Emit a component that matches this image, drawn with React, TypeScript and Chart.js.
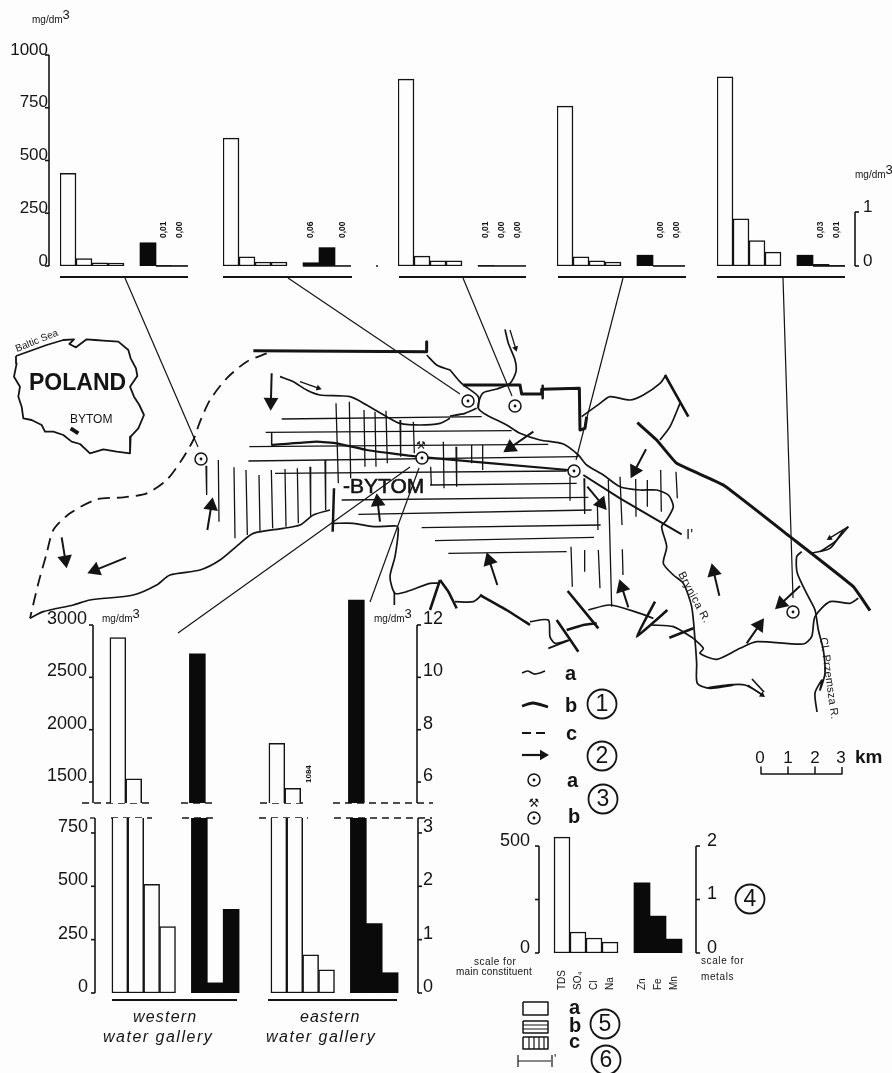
import React, { useEffect, useRef } from "react";
import { Chart, registerables } from "chart.js";

Chart.register(...registerables);

const FONT = '"Liberation Sans", Arial, sans-serif';
const INK = "#141414";
const PAPER = "#fdfdfd";

// ---------- bar data ----------
const categories = ["TDS", "SO₄", "Cl", "Na", "", "Zn", "Fe", "Mn"];

const site1Main = [439, 35, 15, 14];
const site1Metals = [0.43, 0.01, 0];
const site1Notes = ["", "0,01", "0,00"];
const site2Main = [606, 43, 19, 19];
const site2Metals = [0.06, 0.34, 0];
const site2Notes = ["0,06", "", "0,00"];
const site3Main = [886, 47, 24, 24];
const site3Metals = [0.01, 0, 0];
const site3Notes = ["0,01", "0,00", "0,00"];
const site4Main = [758, 43, 24, 19];
const site4Metals = [0.2, 0, 0];
const site4Notes = ["", "0,00", "0,00"];
const site5Main = [896, 223, 120, 66];
const site5Metals = [0.2, 0.03, 0.01];
const site5Notes = ["", "0,03", "0,01"];

const westernMain = [2881, 1530, 509, 311];
const westernMetals = [10.9, 0.19, 1.57];
const easternMain = [1871, 1440, 179, 108];
const easternMetals = [12.95, 1.3, 0.38];
const easternNotes = ["", "1084"];

const keyMain = [542, 98, 70, 51];
const keyMetals = [1.31, 0.69, 0.26];

const mainTicksTop = [0, 250, 500, 750, 1000];
const metalTicksTop = [0, 1];
const mainTicksUpper = [1500, 2000, 2500, 3000];
const metalTicksUpper = [6, 8, 10, 12];
const mainTicksLower = [0, 250, 500, 750];
const metalTicksLower = [0, 1, 2, 3];
const mainTicksKey = [0, 250, 500];
const metalTicksKey = [0, 1, 2];

// ---------- map traces ----------
type P = [number, number];
const w3 = (a: P[]): P[] => a.map(([x, y]) => [x / 3, 290 + y / 3] as P);
const e3 = (a: P[]): P[] => a.map(([x, y]) => [440 + x / 3, 290 + y / 3] as P);

const polandOutline = w3([[48,198],[90,183],[140,165],[190,150],[222,148],[208,162],[228,172],[260,148],[285,150],[310,152],[355,155],[385,180],[392,205],[408,235],[412,258],[390,290],[402,320],[418,345],[432,375],[415,415],[392,440],[390,490],[350,485],[310,478],[270,490],[240,462],[215,455],[190,435],[160,425],[135,425],[125,405],[95,390],[70,385],[65,350],[55,320],[60,290],[42,260],[50,220],[48,198]]);
const polandMark = w3([[212,415],[235,430]]);
const dashedBoundary = w3([[800,190],[740,215],[680,265],[630,330],[600,395],[580,450],[545,510],[500,570],[440,610],[370,622],[290,628],[210,670],[160,720],[140,790],[115,880],[90,985]]);
const northBoundary = [...w3([[760,182],[1280,185],[1280,155],[1280,185]])];
const northBoundaryEast = e3([[70,285],[240,285],[245,312],[305,312],[305,298],[418,295],[420,420],[435,415],[440,380]]);
const boundaryTick = e3([[308,287],[308,325]]);
const riverNorthWest = w3([[840,260],[880,275],[920,300],[960,315],[1050,320],[1100,345],[1160,380],[1200,400],[1260,405],[1320,400],[1350,385]]);
const riverNorthWestEnd = e3([[30,378],[75,370],[110,355]]);
const riverUpper = [...w3([[1280,195],[1310,225],[1350,240]]), ...e3([[30,240],[55,270],[70,285]])];
const riverCircleArm = e3([[70,285],[115,320],[115,355]]);
const riverBrynica = [...e3([[195,118],[205,160],[225,210],[228,245],[210,280],[170,297],[130,308],[118,330],[115,355],[140,375],[200,405],[240,430],[300,450],[370,462],[415,495],[440,525],[490,555],[540,590],[600,600],[650,600],[685,615],[700,650],[680,690],[665,710],[680,770],[670,820],[700,855],[730,880],[755,950],[765,1050],[770,1120],[772,1180],[810,1195],[880,1185]]), [707,688],[727,685],[745,685],[763,695]] as P[];
const riverSouthWest = w3([[90,985],[130,965],[220,945],[270,930],[400,915],[470,885],[510,855],[600,840],[660,810],[720,760],[760,730],[850,715],[900,705],[940,675],[990,660]]);
const riverSouthMid = w3([[1000,700],[1060,700],[1120,710],[1190,708],[1195,720],[1185,800],[1170,860],[1185,910],[1220,905],[1290,880],[1320,880]]);
const riverDrop = w3([[1183,905],[1183,945]]);
const southThick1 = e3([[0,870],[25,905],[50,955]]);
const southThick1b = w3([[1320,870],[1290,960]]);
const riverS2 = e3([[45,935],[100,935],[125,915]]);
const southThick2 = e3([[120,915],[200,960],[270,1005]]);
const riverS3 = e3([[270,995],[325,990],[330,1040],[345,1060],[385,1050]]);
const southThick3 = e3([[350,990],[415,1085]]);
const riverS4 = e3([[325,1075],[390,1050]]);
const southThick4 = e3([[380,1020],[430,1005],[470,1000]]);
const southThick5 = e3([[383,903],[475,1015]]);
const riverS5 = e3([[445,960],[510,945],[600,970],[640,985]]);
const southThick6 = e3([[645,935],[590,1040],[682,960]]);
const riverS6 = e3([[635,1005],[700,1010],[760,1045]]);
const southThick7 = e3([[688,1043],[760,1015]]);
const riverS7 = e3([[760,1045],[790,1075],[780,1090],[830,1108],[900,1075],[950,1055],[1090,1062],[1115,1040],[1125,980],[1170,935],[1230,940],[1255,925]]);
const northEastThick = e3([[592,398],[650,450],[710,520],[850,585],[1050,740],[1240,890],[1290,962]]);
const riverEastFork = e3([[1110,790],[1170,775],[1210,720]]);
const riverPrzemsza = [...e3([[1085,785],[1070,800],[1072,850],[1105,920],[1125,960],[1135,1020],[1150,1080],[1155,1150],[1140,1200]]), [822,680],[815,693],[817,712]] as P[];
const riverNorthEast = e3([[425,380],[480,340],[510,320],[570,330],[610,315],[660,280],[678,255]]);
const thickNorthEast = e3([[675,255],[745,380]]);
const riverNE2 = e3([[720,340],[690,410],[660,450]]);
const sectionLine = [...w3([[815,465],[950,455],[1010,460],[1100,480],[1250,500]]), ...e3([[385,540]])];
const sectionLineEast = e3([[430,555],[540,625],[725,733]]);
const sectionStub = w3([[815,430],[815,465]]);
const gateMark = w3([[1002,595],[998,725]]);

const leaders: P[][] = [
  [[125,278],[198,447]],
  [[288,278],[460,394]],
  [[463,278],[512,396]],
  [[623,278],[576,460]],
  [[783,278],[793,598]],
  [[410,467],[178,633]],
  [[419,468],[370,602]],
];

type Seg = [number, number, number, number];
const hatchHorizontal: Seg[] = [
  [845,387,1320+125,380],[797,427,1320+215,422],[748,470,1320+325,463],[745,513,1320+415,500],[825,550,1320+380,543],
  [1290,585,1320+410,580],[1025,630,1320+445,622],[1075,673,1320+455,660],[1265,713,1320+482,705],[1305,752,1320+462,742],[1345,790,1320+380,785],
];
const hatchVertical: Seg[] = [
  [618,527,620,615],[655,510,657,695],[702,532,705,745],[738,540,742,735],[777,555,780,725],[814,540,818,715],[855,537,858,710],[892,535,895,700],[930,530,932,680],[975,510,977,660],
  [1008,340,1015,580],[1048,335,1052,565],[1092,360,1095,530],[1125,365,1128,530],[1158,362,1162,520],[1200,390,1202,500],[1240,395,1243,490],[1292,530,1294,585],
  [1330,455,1332,595],[1368,470,1370,590],[1415,465,1415,520],[1448,465,1448,540],[1710,560,1710,632],[1752,565,1754,672],[1792,640,1794,720],[1825,570,1835,950],
  [1860,560,1866,705],[1907,567,1908,680],[1942,570,1942,650],[1982,540,1984,665],[2028,545,2032,625],[1713,770,1717,890],[1754,780,1754,845],[1795,780,1800,895],[1867,778,1869,855],
];

const flowArrows: Seg[] = [
  [815,250,812,362],[622,720,638,622],[185,742,200,835],[378,803,262,850],[1140,695,1130,610],
  [1600,425,1510,487],[1938,478,1892,565],[1762,590,1820,660],[1492,885,1460,787],[1885,952,1858,868],[2158,917,2135,820],[2240,1060,2292,985],[2400,888,2325,958],
];
const currentArrows: Seg[] = [
  [900,275,965,298],[1530,120,1550,185],[2545,710,2480,750],[2244,1185,2295,1221],
];
const currentCompanions: P[][] = [e3([[1225,710],[1185,755],[1140,785]]), [[752,679],[764,692]]];

const stations: P[] = [[201,459],[468,401],[515,406],[422,458],[574,471],[793,612],[534,780],[534,818]];
const specks: P[] = [[377,266]];

const circledNumbers: [string, number, number][] = [["1",602,704],["2",602,756],["3",603,799],["4",750,899],["5",605,1024],["6",606,1060]];

const panelRules: P[][] = [
  [[60,277],[188,277]],[[223,277],[352,277]],[[399,277],[526,277]],[[558,277],[686,277]],[[717,277],[845,277]],
  [[112,1000],[237,1000]],[[268,1000],[397,1000]],
];
const breakDashes: P[][] = [
  [[82,803],[150,803]],[[181,803],[217,803]],[[260,803],[308,803]],[[333,803],[433,803]],
  [[90,818],[95,818]],[[111,818],[152,818]],[[182,818],[217,818]],[[259,818],[308,818]],[[334,818],[432,818]],
];
const legendRiver: P[] = [[522,673],[528,671],[534,674],[540,673],[545,671]];
const legendThick: P[] = [[522,706],[533,703],[548,707]];
const legendDash: P[] = [[522,733],[548,733]];
const legendArrow: Seg[] = [[1566,1395,1647,1395]];
const legendBoxes: P[][] = [
  [[523,1002],[548,1002],[548,1015],[523,1015],[523,1002]],
  [[523,1021],[548,1021],[548,1033],[523,1033],[523,1021]],
  [[523,1037],[548,1037],[548,1049],[523,1049],[523,1037]],
];
const legendHatch: Seg[] = [
  [523,1025,548,1025],[523,1029,548,1029],
  [529,1037,529,1049],[534,1037,534,1049],[539,1037,539,1049],[544,1037,544,1049],
  [518,1055,518,1067],[518,1061,551,1061],[552,1055,552,1067],
];
const scaleBar: P[] = [[761,767],[761,774],[788,774],[788,767],[788,774],[815,774],[815,767],[815,774],[842,774],[842,767]];

type Label = { t: string; x: number; y: number; s: number; w?: string; i?: boolean; r?: number; ls?: number; a?: CanvasTextAlign; sup?: boolean; f?: string; st?: number };
const mapLabels: Label[] = [
  { t: "mg/dm", x: 32, y: 23, s: 10, sup: true },
  { t: "mg/dm", x: 855, y: 178, s: 10, sup: true },
  { t: "mg/dm", x: 102, y: 622, s: 10, sup: true },
  { t: "mg/dm", x: 374, y: 622, s: 10, sup: true },
  { t: "POLAND", x: 29, y: 390, s: 23, w: "bold" },
  { t: "BYTOM", x: 70, y: 423, s: 12 },
  { t: "Baltic Sea", x: 17, y: 352, s: 10, r: -22 },
  { t: "-BYTOM", x: 343, y: 493, s: 21, st: 0.6 },
  { t: "Brynica R.", x: 678, y: 574, s: 11, r: 62, ls: 0.6 },
  { t: "Cl. Przemsza R.", x: 820, y: 638, s: 11, r: 82, ls: 0.2 },
  { t: "I'", x: 686, y: 539, s: 15 },
  { t: "'", x: 554, y: 1063, s: 12 },
  { t: "a", x: 565, y: 680, s: 20, w: "bold" },
  { t: "b", x: 565, y: 712, s: 20, w: "bold" },
  { t: "c", x: 566, y: 740, s: 20, w: "bold" },
  { t: "a", x: 567, y: 787, s: 20, w: "bold" },
  { t: "b", x: 568, y: 823, s: 20, w: "bold" },
  { t: "a", x: 569, y: 1014, s: 20, w: "bold" },
  { t: "b", x: 569, y: 1032, s: 20, w: "bold" },
  { t: "c", x: 569, y: 1048, s: 20, w: "bold" },
  { t: "⚒", x: 421, y: 449, s: 11, a: "center", f: '"DejaVu Sans"' },
  { t: "⚒", x: 534, y: 807, s: 12, a: "center", f: '"DejaVu Sans"' },
  { t: "0", x: 760, y: 763, s: 17, a: "center" },
  { t: "1", x: 788, y: 763, s: 17, a: "center" },
  { t: "2", x: 815, y: 763, s: 17, a: "center" },
  { t: "3", x: 841, y: 763, s: 17, a: "center" },
  { t: "km", x: 855, y: 763, s: 19, w: "bold" },
  { t: "western", x: 133, y: 1022, s: 16, i: true, ls: 1.2 },
  { t: "water gallery", x: 103, y: 1042, s: 16, i: true, ls: 1.5 },
  { t: "eastern", x: 300, y: 1022, s: 16, i: true, ls: 1 },
  { t: "water gallery", x: 266, y: 1042, s: 16, i: true, ls: 1.5 },
  { t: "scale for", x: 474, y: 965, s: 10, ls: 0.5 },
  { t: "main constituent", x: 456, y: 975, s: 10, ls: 0.2 },
  { t: "scale for", x: 701, y: 964, s: 10, ls: 0.6 },
  { t: "metals", x: 701, y: 980, s: 10, ls: 0.6 },
];

// ---------- map layer ----------
const xy = (a: P[]) => a.map(([x, y]) => ({ x, y }));
const line = (a: P[], width: number, dash: number[] = [], tension = 0.25) => ({
  data: xy(a), showLine: true, borderColor: INK, borderWidth: width, borderDash: dash,
  pointRadius: 0, tension, borderCapStyle: "butt", borderJoinStyle: "round", fill: false,
});
const segments = (a: Seg[], width: number) => ({
  data: a.flatMap(([x1, y1, x2, y2]) => [{ x: x1, y: y1 }, { x: x2, y: y2 }, { x: null, y: null }]),
  showLine: true, borderColor: INK, borderWidth: width, pointRadius: 0, tension: 0, spanGaps: false,
});
const hatchPage = (a: Seg[]): Seg[] => a.map(([x1, y1, x2, y2]) => [x1 / 3, 290 + y1 / 3, x2 / 3, 290 + y2 / 3] as Seg);

function arrowSets(a: Seg[], lineWidth: number, size: number) {
  const page = hatchPage(a);
  const heads = page.map(([x1, y1, x2, y2]) => {
    const len = Math.hypot(x2 - x1, y2 - y1) || 1;
    const ux = (x2 - x1) / len, uy = (y2 - y1) / len;
    return { x: x2 - ux * size, y: y2 - uy * size, rot: (Math.atan2(ux, -uy) * 180) / Math.PI };
  });
  return [
    {
      data: heads.map((h) => ({ x: h.x, y: h.y })), showLine: false, pointStyle: "triangle",
      pointRadius: size, pointRotation: heads.map((h) => h.rot), backgroundColor: INK, borderColor: INK, borderWidth: 0,
    },
    segments(page.map(([x1, y1], i) => [x1, y1, heads[i].x, heads[i].y] as Seg), lineWidth),
  ];
}

function MapLayer() {
  const ref = useRef<HTMLCanvasElement>(null);
  useEffect(() => {
    const labelPlugin = {
      id: "mapLabels",
      afterDatasetsDraw(chart: any) {
        const { ctx, scales } = chart;
        ctx.save();
        ctx.fillStyle = INK;
        ctx.strokeStyle = INK;
        ctx.textBaseline = "alphabetic";
        const put = (l: Label) => {
          ctx.save();
          ctx.translate(scales.x.getPixelForValue(l.x), scales.y.getPixelForValue(l.y));
          if (l.r) ctx.rotate((l.r * Math.PI) / 180);
          ctx.font = `${l.i ? "italic " : ""}${l.w || "normal"} ${l.s}px ${l.f || FONT}`;
          ctx.textAlign = l.a || "left";
          (ctx as any).letterSpacing = `${l.ls || 0}px`;
          ctx.fillText(l.t, 0, 0);
          if (l.st) {
            ctx.lineWidth = l.st;
            ctx.strokeText(l.t, 0, 0);
          }
          if (l.sup) {
            const w = ctx.measureText(l.t).width;
            ctx.font = `${l.s + 3}px ${FONT}`;
            ctx.fillText("3", w, -4);
          }
          ctx.restore();
        };
        mapLabels.forEach(put);
        circledNumbers.forEach(([t, x, y]) => {
          ctx.font = `23px ${FONT}`;
          ctx.textAlign = "center";
          ctx.textBaseline = "middle";
          ctx.fillText(t, scales.x.getPixelForValue(x), scales.y.getPixelForValue(y) + 1);
        });
        ctx.restore();
      },
    };
    const chart = new Chart(ref.current!, {
      type: "scatter",
      data: {
        datasets: [
          { data: xy(stations), showLine: false, pointStyle: "circle", pointRadius: 1.4, backgroundColor: INK, borderWidth: 0 },
          { data: xy(stations), showLine: false, pointStyle: "circle", pointRadius: 6, backgroundColor: PAPER, borderColor: INK, borderWidth: 1.5 },
          { data: xy(circledNumbers.map(([, x, y]) => [x, y] as P)), showLine: false, pointStyle: "circle", pointRadius: 14.5, backgroundColor: "rgba(0,0,0,0)", borderColor: INK, borderWidth: 1.8 },
          { data: xy(specks), showLine: false, pointRadius: 1, backgroundColor: INK, borderWidth: 0 },
          ...arrowSets(flowArrows, 2, 8.5),
          ...arrowSets(currentArrows, 1.3, 3.5),
          ...arrowSets(legendArrow, 2.2, 6),
          line(polandOutline, 1.8, [], 0),
          line(polandMark, 4, [], 0),
          line(dashedBoundary, 1.8, [12, 7]),
          line(northBoundary, 3, [], 0),
          line(northBoundaryEast, 3, [], 0),
          line(boundaryTick, 2.5, [], 0),
          ...[riverNorthWest, riverNorthWestEnd, riverUpper, riverCircleArm, riverBrynica, riverSouthWest, riverSouthMid, riverDrop, riverS2, riverS3, riverS4, riverS5, riverS6, riverS7, riverEastFork, riverPrzemsza, riverNorthEast, riverNE2, ...currentCompanions].map((r) => line(r, 1.7)),
          ...[southThick1, southThick1b, southThick2, southThick3, southThick4, southThick5, southThick6, southThick7, thickNorthEast].map((r) => line(r, 2.6, [], 0.1)),
          line(northEastThick, 3, [], 0.1),
          line(sectionLine, 2.2, [], 0.1),
          line(sectionLineEast, 2, [], 0),
          line(sectionStub, 1.5, [], 0),
          line(gateMark, 2.5, [], 0),
          ...leaders.map((l) => line(l, 1.2, [], 0)),
          segments(hatchPage(hatchHorizontal), 1.3),
          segments(hatchPage(hatchVertical), 1.3),
          ...panelRules.map((l) => line(l, 2, [], 0)),
          ...breakDashes.map((l) => line(l, 1.3, [7, 5], 0)),
          line(legendRiver, 1.7),
          line(legendThick, 2.8),
          line(legendDash, 1.8, [9, 5], 0),
          ...legendBoxes.map((l) => line(l, 1.5, [], 0)),
          segments(legendHatch, 1.2),
          line(scaleBar, 1.5, [], 0),
        ] as any,
      },
      options: {
        responsive: false, animation: false, layout: { padding: 0, autoPadding: false },
        plugins: { legend: { display: false }, tooltip: { enabled: false } },
        events: [],
        scales: {
          x: { type: "linear", min: 0, max: 892, display: false },
          y: { type: "linear", min: 0, max: 1073, reverse: true, display: false },
        },
      },
      plugins: [labelPlugin],
    } as any);
    return () => chart.destroy();
  }, []);
  return <canvas ref={ref} width={892} height={1073} style={{ position: "absolute", left: 0, top: 0, width: 892, height: 1073 }} />;
}

// ---------- bar panels ----------
type AxisSpec = { min: number; max: number; ticks?: number[]; blank?: number[]; font?: number; padding?: number; offset?: number; railDx?: number; railFrom?: number; railTo?: number };
type PanelSpec = {
  area: { l: number; t: number; r: number; b: number };
  pad: { l: number; t: number; r: number; b: number };
  cats: string[]; main: (number | null)[]; metal: (number | null)[];
  mainAxis: AxisSpec; metalAxis: AxisSpec;
  closed: boolean; notes?: (string | null)[]; noteUp?: number; noteSize?: number; baselineFrom?: number; catLabels?: number;
};

function axisOptions(a: AxisSpec, position: string, size: number) {
  const shown = !!a.ticks;
  return {
    type: "linear", position, min: a.min, max: a.max, display: shown,
    grid: { display: false, drawTicks: false },
    border: { display: false },
    afterBuildTicks: shown ? (s: any) => { s.ticks = a.ticks!.map((value) => ({ value })); } : undefined,
    afterFit: shown ? (s: any) => { s.width = size; } : undefined,
    ticks: {
      font: { family: FONT, size: a.font || 17 }, color: INK, padding: a.padding || 8, labelOffset: a.offset ?? -5,
      autoSkip: false, maxRotation: 0, minRotation: 0,
      callback: (v: number) => (a.blank && a.blank.includes(v) ? "" : String(v)),
    },
  };
}

function BarPanel({ spec }: { spec: PanelSpec }) {
  const ref = useRef<HTMLCanvasElement>(null);
  const { area, pad } = spec;
  const width = area.r - area.l + pad.l + pad.r;
  const height = area.b - area.t + pad.t + pad.b;
  useEffect(() => {
    const decor = {
      id: "decor",
      afterDatasetsDraw(chart: any) {
        const { ctx, chartArea, scales } = chart;
        ctx.save();
        ctx.strokeStyle = INK;
        ctx.fillStyle = INK;
        const rail = (a: AxisSpec, scale: any, left: boolean) => {
          if (!a.ticks) return;
          const x = (left ? chartArea.left : chartArea.right) + (a.railDx || 0);
          ctx.lineWidth = 1.6;
          ctx.beginPath();
          ctx.moveTo(x, scale.getPixelForValue(a.railFrom ?? a.min));
          ctx.lineTo(x, scale.getPixelForValue(a.railTo ?? a.max));
          ctx.stroke();
          a.ticks.forEach((v) => {
            const y = scale.getPixelForValue(v);
            ctx.beginPath();
            ctx.moveTo(x, y);
            ctx.lineTo(x + (left ? -4 : 4), y);
            ctx.stroke();
          });
        };
        rail(spec.mainAxis, scales.y, true);
        rail(spec.metalAxis, scales.y1, false);
        if (spec.baselineFrom !== undefined) {
          const step = scales.x.getPixelForValue(1) - scales.x.getPixelForValue(0);
          const y = scales.y.getPixelForValue(0);
          ctx.lineWidth = 1.6;
          ctx.beginPath();
          ctx.moveTo(scales.x.getPixelForValue(spec.baselineFrom) - step / 2, y);
          ctx.lineTo(chartArea.right, y);
          ctx.stroke();
        }
        if (spec.notes) {
          ctx.font = `bold ${spec.noteSize || 8.5}px ${FONT}`;
          ctx.textBaseline = "middle";
          ctx.textAlign = "left";
          spec.notes.forEach((n, i) => {
            if (!n) return;
            ctx.save();
            ctx.translate(scales.x.getPixelForValue(i), chartArea.bottom - (spec.noteUp || 28));
            ctx.rotate(-Math.PI / 2);
            ctx.fillText(n, 0, 0);
            ctx.restore();
          });
        }
        if (spec.catLabels) {
          ctx.font = `10px ${FONT}`;
          ctx.textBaseline = "middle";
          ctx.textAlign = "left";
          spec.cats.forEach((c, i) => {
            if (!c) return;
            ctx.save();
            ctx.translate(scales.x.getPixelForValue(i), chartArea.bottom + spec.catLabels!);
            ctx.rotate(-Math.PI / 2);
            ctx.fillText(c, 0, 0);
            ctx.restore();
          });
        }
        ctx.restore();
      },
    };
    const chart = new Chart(ref.current!, {
      type: "bar",
      data: {
        labels: spec.cats,
        datasets: [
          { label: "main constituents", data: spec.main, yAxisID: "y", backgroundColor: PAPER, borderColor: INK, borderWidth: 1.5, borderSkipped: spec.closed ? false : "start" },
          { label: "metals", data: spec.metal, yAxisID: "y1", backgroundColor: "#0a0a0a", borderWidth: 0 },
        ],
      },
      options: {
        responsive: false, animation: false, events: [],
        layout: { padding: { top: pad.t, bottom: pad.b, left: spec.mainAxis.ticks ? 0 : pad.l, right: spec.metalAxis.ticks ? 0 : pad.r } },
        plugins: { legend: { display: false }, tooltip: { enabled: false } },
        datasets: { bar: { grouped: false, barPercentage: 1, categoryPercentage: 1 } },
        scales: {
          x: { type: "category", display: false, grid: { display: false } },
          y: axisOptions(spec.mainAxis, "left", pad.l),
          y1: axisOptions(spec.metalAxis, "right", pad.r),
        },
      },
      plugins: [decor],
    } as any);
    return () => chart.destroy();
  }, []);
  return (
    <canvas ref={ref} width={width} height={height}
      style={{ position: "absolute", left: area.l - pad.l, top: area.t - pad.t, width, height }} />
  );
}

const topMetalMax = 3.907;
const withGap = (main: number[], metal: number[]) => ({
  main: [...main, null, null, null, null] as (number | null)[],
  metal: [null, null, null, null, null, ...metal] as (number | null)[],
});
const topPanel = (l: number, main: number[], metal: number[], notes: string[], baselineFrom: number, left: boolean, right: boolean): PanelSpec => ({
  area: { l, t: 55, r: l + 128, b: 266 },
  pad: { l: left ? 58 : 2, t: 40, r: right ? 40 : 2, b: 40 },
  cats: categories,
  ...withGap(main, metal),
  mainAxis: { min: 0, max: 1000, ...(left ? { ticks: mainTicksTop, font: 17, padding: 12, offset: -5, railDx: -11, railFrom: 0, railTo: 1000 } : {}) },
  metalAxis: { min: 0, max: topMetalMax, ...(right ? { ticks: metalTicksTop, font: 17, padding: 18, offset: -5, railDx: 10, railFrom: 0, railTo: 1 } : {}) },
  closed: true,
  notes: [null, null, null, null, null, ...notes],
  noteUp: 28,
  baselineFrom,
});

const cats20 = ["", ...categories, "", "", ...categories, ""];
const both = (west: number[], east: number[]) => [null, ...west, null, null, null, null, null, null, ...east, null, null, null, null] as (number | null)[];
const bothMetal = (west: number[], east: number[]) => [null, null, null, null, null, null, ...west, null, null, null, null, null, null, null, ...east, null] as (number | null)[];

const upperFloor = 1300;
const upperPanel: PanelSpec = {
  area: { l: 94, t: 598, r: 412, b: 803 },
  pad: { l: 60, t: 40, r: 36, b: 40 },
  cats: cats20,
  main: both(westernMain, easternMain).map((v) => (v !== null && v >= upperFloor ? v : null)),
  metal: bothMetal(westernMetals, easternMetals).map((v) => (v !== null && v >= 5.2 ? v : null)),
  mainAxis: { min: upperFloor, max: 3258, ticks: mainTicksUpper, font: 18, padding: 7, offset: -6, railDx: -1, railFrom: upperFloor, railTo: 3000 },
  metalAxis: { min: 5.2, max: 13.03, ticks: metalTicksUpper, font: 18, padding: 11, offset: -6, railDx: 5, railFrom: 5.2, railTo: 12 },
  closed: false,
  notes: [...Array(12).fill(null), ...easternNotes],
  noteUp: 20,
  noteSize: 8,
};
const lowerPanel: PanelSpec = {
  area: { l: 96, t: 818, r: 414, b: 993 },
  pad: { l: 60, t: 40, r: 36, b: 40 },
  cats: cats20,
  main: both(westernMain, easternMain),
  metal: bothMetal(westernMetals, easternMetals),
  mainAxis: { min: 0, max: 820, ticks: mainTicksLower, font: 18, padding: 8, offset: -6, railDx: -1, railFrom: 0, railTo: 820 },
  metalAxis: { min: 0, max: 3.28, ticks: metalTicksLower, font: 18, padding: 9, offset: -6, railDx: 4, railFrom: 0, railTo: 3.28 },
  closed: true,
};
const keyPanel: PanelSpec = {
  area: { l: 538, t: 830, r: 698, b: 953 },
  pad: { l: 46, t: 40, r: 30, b: 42 },
  cats: ["", ...categories, ""],
  main: [null, ...keyMain, null, null, null, null, null],
  metal: [null, null, null, null, null, null, ...keyMetals, null],
  mainAxis: { min: 0, max: 575, ticks: mainTicksKey, blank: [250], font: 18, padding: 8, offset: -5, railDx: 1, railFrom: 0, railTo: 500 },
  metalAxis: { min: 0, max: 2.3, ticks: metalTicksKey, font: 18, padding: 9, offset: -5, railDx: -2, railFrom: 0, railTo: 2 },
  closed: true,
  catLabels: 37,
};

const panels: PanelSpec[] = [
  topPanel(60, site1Main, site1Metals, site1Notes, 6, true, false),
  topPanel(223, site2Main, site2Metals, site2Notes, 5, false, false),
  topPanel(398, site3Main, site3Metals, site3Notes, 5, false, false),
  topPanel(557, site4Main, site4Metals, site4Notes, 6, false, false),
  topPanel(717, site5Main, site5Metals, site5Notes, 6, false, true),
  upperPanel,
  lowerPanel,
  keyPanel,
];

export default function App() {
  return (
    <div style={{ position: "absolute", left: 0, top: 0, width: 892, height: 1073, background: PAPER, overflow: "hidden" }}>
      <MapLayer />
      {panels.map((p, i) => <BarPanel key={i} spec={p} />)}
    </div>
  );
}
